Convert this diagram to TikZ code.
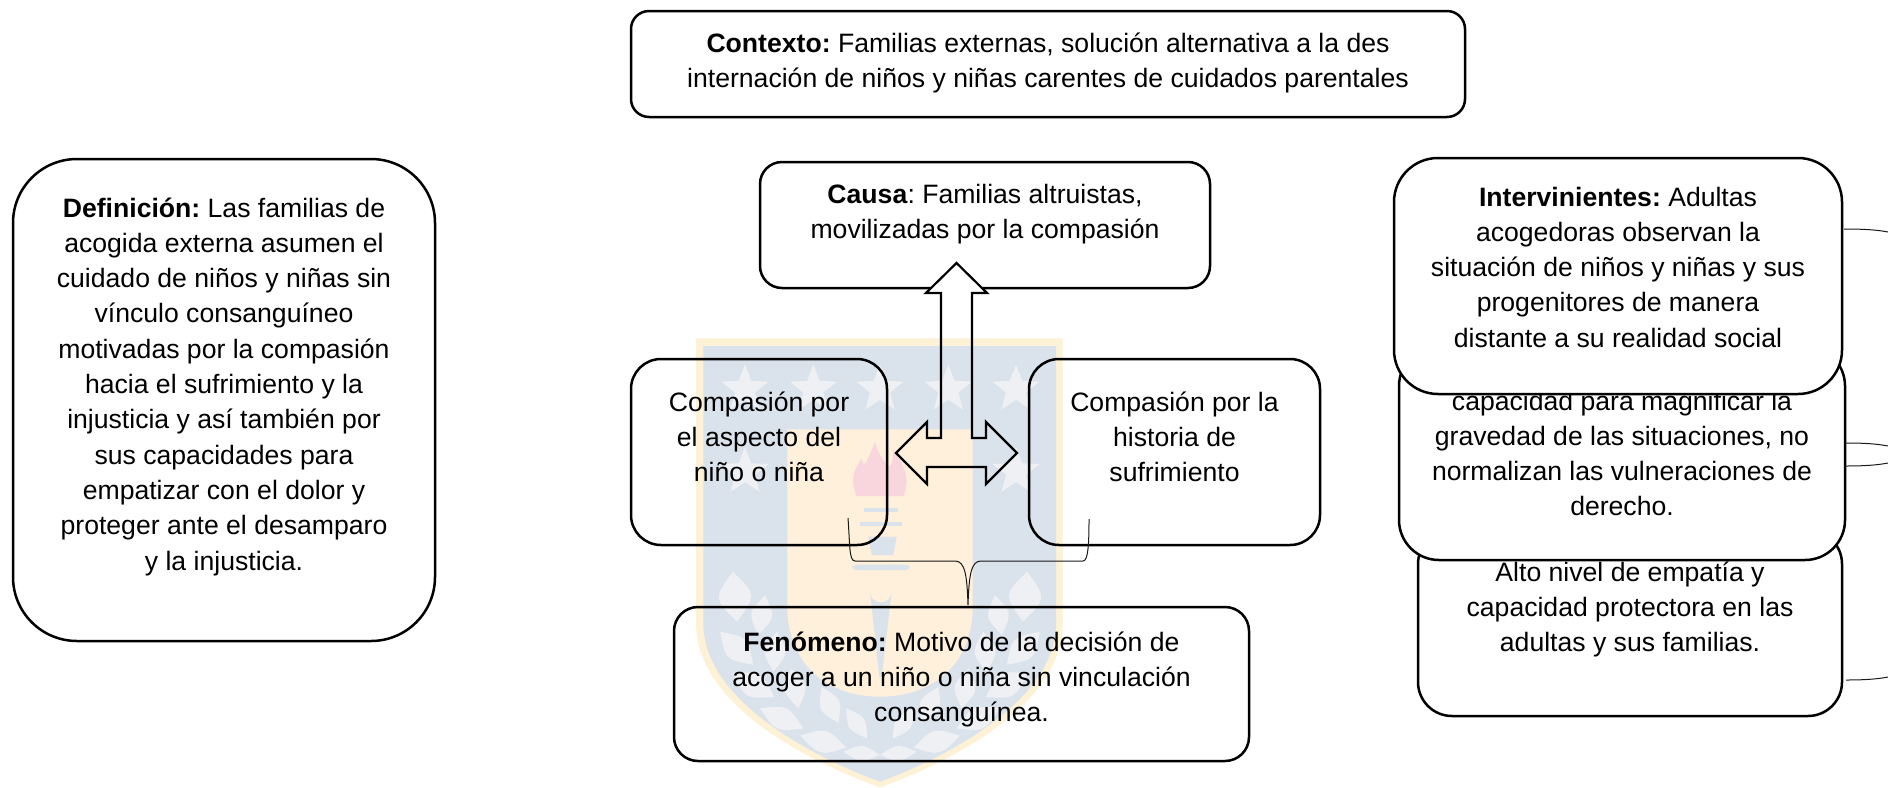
\documentclass[tikz,border=0pt]{standalone}
\usepackage{fontspec}
\setmainfont{Liberation Sans}
\definecolor{wmgold}{HTML}{FDF1D6}
\definecolor{wmblue}{HTML}{DAE2EB}
\definecolor{wmyel}{HTML}{FEF0DB}
\definecolor{wmpink}{HTML}{F9D6DE}
\definecolor{wmleaf}{HTML}{EEF0F3}
\newlength\pxu \setlength\pxu{0.5pt}
% width, height, first-baseline offset (all in px), text
\newcommand\bxt[4]{\begin{minipage}[c][#2\pxu][t]{#1\pxu}\centering\frenchspacing\fontsize{13.3pt}{17.65pt}\selectfont
\vspace*{\dimexpr#3\pxu-11pt\relax}\rule{0pt}{11pt}\ignorespaces #4\par\end{minipage}}
\newcommand\wmstar[3]{\fill[wmleaf] (#1,#2) ++(-90:#3)
 -- ($(#1,#2)+(-54:0.42*#3)$) -- ($(#1,#2)+(-18:#3)$) -- ($(#1,#2)+(18:0.42*#3)$)
 -- ($(#1,#2)+(54:#3)$) -- ($(#1,#2)+(90:0.42*#3)$) -- ($(#1,#2)+(126:#3)$)
 -- ($(#1,#2)+(162:0.42*#3)$) -- ($(#1,#2)+(198:#3)$) -- ($(#1,#2)+(234:0.42*#3)$) -- cycle;}
\newcommand\wmleafshape[5]{\fill[wmleaf,rotate around={#3:(#1,#2)}]
 (#1-#4,#2) .. controls (#1,#2-#5) .. (#1+#4,#2) .. controls (#1,#2+#5) .. cycle;}
\newcommand\wmpair[5]{\wmleafshape{#1}{#2}{#3}{#4}{#5}%
 \pgfmathsetmacro\mx{1200-#1}\pgfmathsetmacro\ma{180-#3}\wmleafshape{\mx}{#2}{\ma}{#4}{#5}}
\usetikzlibrary{calc}
\tikzset{
 pbox/.style={draw=black,line width=1.25pt,inner sep=0pt,outer sep=0pt,fill=white},
 obox/.style={draw=black,line width=1.25pt,inner sep=0pt,outer sep=0pt},
 thinline/.style={draw=black!90,line width=0.5pt},
 blockarrow/.style={line width=1.1pt,line join=miter}
}
\begin{document}
\begin{tikzpicture}[x=0.5pt,y=-0.5pt]
\useasboundingbox (0,0) rectangle (1888,787);
\fill[white] (0,0) rectangle (1888,787);
% white-filled boxes clear of the watermark
\node[pbox,rounded corners=9pt] (ctx) at (1048,64) {\bxt{834}{106}{41}{\textbf{Contexto:} Familias externas, solución alternativa a la des\\internación de niños y niñas carentes de cuidados parentales}};
\node[pbox,rounded corners=11pt] (cau) at (985,225) {\bxt{450}{126}{41}{\textbf{Causa}: Familias altruistas,\\movilizadas por la compasión}};
\node[pbox,rounded corners=32pt] (def) at (224,400) {\bxt{422}{482}{58}{\textbf{Definición:} Las familias de\\acogida externa asumen el\\cuidado de niños y niñas sin\\vínculo consanguíneo\\motivadas por la compasión\\hacia el sufrimiento y la\\injusticia y así también por\\sus capacidades para\\empatizar con el dolor y\\proteger ante el desamparo\\y la injusticia.}};
% arrow body clears the box line behind its head
\path[fill=white] (956.5,263) -- (987,293) -- (972,293) -- (972,438) -- (986,438) -- (986,422) -- (1017,453) -- (986,484) -- (986,467) -- (927,467) -- (927,484) -- (896,453) -- (927,422) -- (927,438) -- (941,438) -- (941,293) -- (926,293) -- cycle;
% watermark, in crop coordinates
\begin{scope}[shift={(680,330)},x=0.16667pt,y=-0.16667pt]
\fill[wmgold] (48,25) -- (1148,25) -- (1148,880) .. controls (1148,1130) and (800,1300) .. (600,1372) .. controls (400,1300) and (48,1130) .. (48,880) -- cycle;
\fill[wmblue] (70,48) -- (1128,48) -- (1128,880) .. controls (1128,1115) and (790,1285) .. (600,1355) .. controls (410,1285) and (70,1115) .. (70,880) -- cycle;
\fill[wmyel] (322,298) -- (878,298) -- (878,830) .. controls (878,1000) and (760,1100) .. (600,1100) .. controls (440,1100) and (322,1000) .. (322,830) -- cycle;
\wmstar{195}{178}{75}\wmstar{400}{178}{75}\wmstar{600}{178}{75}\wmstar{805}{178}{75}\wmstar{1008}{178}{75}
\wmstar{195}{425}{75}\wmstar{1008}{425}{75}
\fill[wmpink] (530,498) .. controls (505,440) and (530,410) .. (545,385) .. controls (550,420) and (560,400) .. (585,335) .. controls (600,390) and (620,400) .. (630,410) .. controls (640,390) and (640,370) .. (640,360) .. controls (680,420) and (690,450) .. (670,498) -- cycle;
\fill[wmblue] (553,535) rectangle (655,547);
\fill[wmblue] (540,577) rectangle (665,589);
\fill[wmblue] (565,620) -- (650,620) -- (640,675) -- (575,675) -- cycle;
\fill[wmblue,rounded corners=2pt] (517,704) rectangle (690,720);
\fill[wmblue] (570,785) arc[start angle=180,end angle=0,x radius=32.5,y radius=32.5] -- (605,1040) -- (598,1040) -- cycle;
\wmpair{165}{800}{95}{75}{65}
\wmpair{245}{855}{80}{60}{42}
\wmpair{170}{955}{135}{70}{48}
\wmpair{285}{965}{85}{60}{42}
\wmpair{220}{1065}{150}{72}{48}
\wmpair{345}{1075}{100}{60}{42}
\wmpair{305}{1165}{155}{72}{44}
\wmpair{450}{1125}{115}{60}{40}
\wmpair{430}{1235}{165}{72}{44}
\wmpair{530}{1180}{125}{55}{34}
\wmpair{545}{1270}{175}{55}{30}
\end{scope}
% block arrow outline
\draw[blockarrow] (956.5,263) -- (987,293) -- (972,293) -- (972,438) -- (986,438) -- (986,422) -- (1017,453) -- (986,484) -- (986,467) -- (927,467) -- (927,484) -- (896,453) -- (927,422) -- (927,438) -- (941,438) -- (941,293) -- (926,293) -- cycle;
% boxes over the watermark
\node[obox,rounded corners=15pt] (cl) at (759,452) {\bxt{256}{186}{52}{Compasión por\\el aspecto del\\niño o niña}};
\node[obox,rounded corners=15pt] (cr) at (1174.5,452) {\bxt{291}{186}{52}{Compasión por la\\historia de\\sufrimiento}};
\node[obox,rounded corners=12pt] (fen) at (961.5,684) {\bxt{575}{154}{44}{\textbf{Fenómeno:} Motivo de la decisión de\\acoger a un niño o niña sin vinculación\\consanguínea.}};
% brace
\coordinate (bl) at (848,518);
\coordinate (bc1) at (855,561);
\coordinate (apex) at (968,605);
\coordinate (bc2) at (1083,561);
\coordinate (br) at (1089,519);
\draw[thinline] (bl) .. controls (850,545) and (849,561) .. (bc1) -- (955,561) .. controls (965,561) and (967,575) .. (apex) .. controls (969,575) and (971,561) .. (981,561) -- (bc2) .. controls (1088,561) and (1089,545) .. (br);
% right stack
\node[pbox,rounded corners=17pt] (bot) at (1630,623) {\bxt{424}{186}{51}{Alto nivel de empatía y\\capacidad protectora en las\\adultas y sus familias.}};
\node[pbox,rounded corners=20pt] (mid) at (1622,453) {\bxt{446}{214}{64}{capacidad para magnificar la\\gravedad de las situaciones, no\\normalizan las vulneraciones de\\derecho.}};
\node[pbox,rounded corners=22pt] (inv) at (1618,276) {\bxt{448}{236}{48}{\textbf{Intervinientes:} Adultas\\acogedoras observan la\\situación de niños y niñas y sus\\progenitores de manera\\distante a su realidad social}};
% cut-off brace ends
\coordinate (e1) at (1888,232);
\coordinate (e2) at (1888,446);
\coordinate (e3) at (1888,463);
\coordinate (e4) at (1888,677);
\draw[thinline] ([xshift=1pt]inv.east |- 0,229) .. controls (1865,229) and (1878,230) .. (e1);
\draw[thinline] ([xshift=0.5pt]mid.east |- 0,443) .. controls (1865,443) and (1878,444) .. (e2);
\draw[thinline] ([xshift=0.5pt]mid.east |- 0,466) .. controls (1865,466) and (1878,465) .. (e3);
\draw[thinline] ([xshift=2pt]bot.east |- 0,680) .. controls (1865,680) and (1878,679) .. (e4);
\end{tikzpicture}
\end{document}
